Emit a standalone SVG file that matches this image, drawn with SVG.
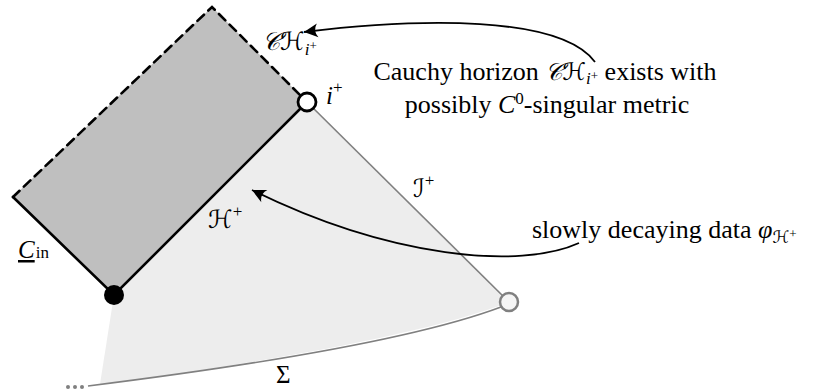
<svg xmlns="http://www.w3.org/2000/svg" width="813" height="392" viewBox="0 0 813 392">
<style>
text{font-family:'Liberation Serif','Times New Roman','DejaVu Serif',serif;font-size:25px;fill:#000}
.it{font-style:italic}
.sub{font-size:17px}
.ss{font-size:13px}
.scr{font-family:'DejaVu Serif','DejaVu Sans',serif;font-style:italic}
.note{font-size:26px}
.bd{fill:none;stroke:#000;stroke-width:2.6;stroke-linecap:round}
.gl{fill:none;stroke:#808080;stroke-width:1.6}
.ar{fill:none;stroke:#000;stroke-width:1.8}
</style>
<defs>
<marker id="ah" markerUnits="userSpaceOnUse" markerWidth="20" markerHeight="20" viewBox="-12 -8 16 16" refX="0" refY="0" orient="auto">
<path d="M0,0 L-11,-5.5 Q-7,0 -11,5.5 Z" fill="#000"/>
</marker>
</defs>
<g id="exterior-region">
<path d="M114,295 L307,102 L509,302 C420,338 200,372 100,384 Z" fill="#ededed"/>
<path class="gl" d="M307,102 L509,302"/>
<path class="gl" d="M88,386 C200,372 400,345 501,307"/>
<circle cx="68" cy="387" r="2" fill="#808080"/>
<circle cx="75" cy="387" r="2" fill="#808080"/>
<circle cx="82" cy="387" r="2" fill="#808080"/>
</g>
<g id="interior-region">
<path d="M13,197 L212,7 L307,102 L114,295 Z" fill="#bfbfbf"/>
<path class="bd" d="M13,197 L212,7 L307,102" stroke-dasharray="9,6" stroke-linecap="butt"/>
<path class="bd" d="M13,197 L114,295 L307,102"/>
</g>
<g id="i-plus">
<circle cx="307" cy="102" r="9" fill="#fff" stroke="#000" stroke-width="2.8"/>
<text x="326" y="104" class="it">i<tspan dy="-11" class="sub" font-style="normal">+</tspan></text>
</g>
<g id="bifurcation-point">
<circle cx="114" cy="295" r="10" fill="#000"/>
</g>
<g id="spatial-infinity">
<circle cx="509" cy="302" r="9" fill="#f5f5f5" stroke="#808080" stroke-width="2.5"/>
</g>
<g id="labels">
<text x="262" y="50" font-size="23"><tspan class="scr">𝒞ℋ</tspan><tspan class="sub it" dy="5">i</tspan><tspan class="ss" dy="-5">+</tspan></text>
<text x="208" y="228" font-size="23"><tspan class="scr">ℋ</tspan><tspan class="sub" dy="-11">+</tspan></text>
<text x="18" y="258"><tspan class="it" text-decoration="underline">C</tspan><tspan class="sub" dx="1">in</tspan></text>
<text x="413" y="197" font-size="23"><tspan class="scr">ℐ</tspan><tspan class="sub" dy="-11">+</tspan></text>
<text x="276" y="383">Σ</text>
</g>
<g id="notes">
<text class="note" x="545" y="80" text-anchor="middle">Cauchy horizon <tspan class="scr" font-size="24">𝒞ℋ</tspan><tspan class="sub it" dy="4">i</tspan><tspan class="ss" dy="-4">+</tspan><tspan> exists with</tspan></text>
<text class="note" x="547" y="113" text-anchor="middle">possibly <tspan class="it">C</tspan><tspan class="sub" dy="-9">0</tspan><tspan dy="9">-singular metric</tspan></text>
<text class="note" x="532" y="238">slowly decaying data <tspan class="it">φ</tspan><tspan class="sub scr" dy="5">ℋ</tspan><tspan class="ss" dy="-5">+</tspan></text>
</g>
<g id="connectors">
<path class="ar" d="M595,62 C560,15 420,18 304,32" marker-end="url(#ah)"/>
<path class="ar" d="M579,243 C520,270 390,258 252,190" marker-end="url(#ah)"/>
</g>
</svg>
